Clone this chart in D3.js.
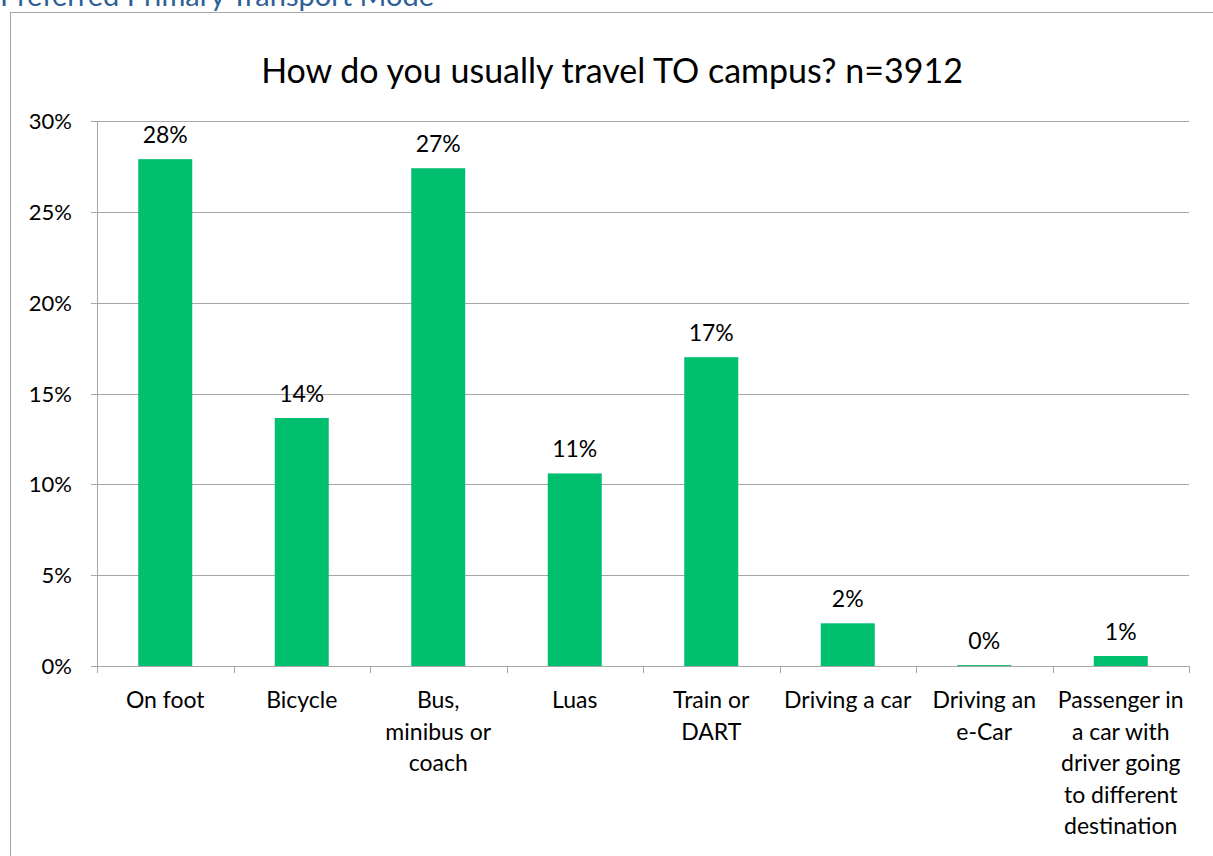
<!DOCTYPE html>
<html>
<head>
<meta charset="utf-8">
<script src="https://cdn.jsdelivr.net/npm/d3@7"></script>
<style>
body { margin: 0; background: #fff; }
text { font-family: Lato, "Open Sans", sans-serif; }
</style>
</head>
<body>
<svg width="1213" height="856"></svg>
<script>
var categories = ['On foot', 'Bicycle', 'Bus, minibus or coach', 'Luas', 'Train or DART', 'Driving a car', 'Driving an e-Car', 'Passenger in a car with driver going to different destination'];
var labelLines = [['On foot'], ['Bicycle'], ['Bus,', 'minibus or', 'coach'], ['Luas'], ['Train or', 'DART'], ['Driving a car'], ['Driving an', 'e-Car'], ['Passenger in', 'a car with', 'driver going', 'to different', 'destination']];
var values = [27.9, 13.65, 27.4, 10.6, 17.0, 2.35, 0.05, 0.55];
var valueLabels = ['28%', '14%', '27%', '11%', '17%', '2%', '0%', '1%'];
var yTicks = [0, 5, 10, 15, 20, 25, 30];

var svg = d3.select('svg');
var margin = {left: 97, right: 24, top: 121, bottom: 190};
var width = +svg.attr('width'), height = +svg.attr('height');
var innerwidth = width - margin.left - margin.right;
var innerheight = height - margin.top - margin.bottom;

// page heading (sits partly above the page) and chart frame
svg.append('text')
	.attr('x', 0).attr('y', 6)
	.style('font-size', '29px')
	.style('fill', '#2e6096')
	.text('Preferred Primary Transport Mode');

svg.append('rect')
	.attr('x', 10.5).attr('y', 12.5)
	.attr('width', 1220).attr('height', 900)
	.attr('fill', 'none')
	.attr('stroke', '#a6a6a6');

svg.append('text')
	.attr('x', 612).attr('y', 83)
	.attr('text-anchor', 'middle')
	.style('font-size', '34px')
	.text('How do you usually travel TO campus? n=3912');

var band = d3.scaleBand().domain(categories).range([0, innerwidth]);
var yscale = d3.scaleLinear().domain([0, 30]).range([innerheight, 0]);

var g = svg.append('g').attr('transform', `translate(${margin.left},${margin.top})`);

// gridlines
g.append('g').selectAll('line').data(yTicks).enter().append('line')
	.attr('x1', -6).attr('x2', innerwidth)
	.attr('y1', d => Math.round(yscale(d)) + 0.5).attr('y2', d => Math.round(yscale(d)) + 0.5)
	.attr('stroke', '#a6a6a6');

g.append('line')
	.attr('x1', 0.5).attr('x2', 0.5).attr('y1', 0).attr('y2', innerheight)
	.attr('stroke', '#a6a6a6');

g.append('g').selectAll('text').data(yTicks).enter().append('text')
	.attr('x', -25).attr('y', d => yscale(d) + 8)
	.attr('text-anchor', 'end')
	.style('font-size', '22px')
	.text(d => d + '%');

// x tick marks at category boundaries
var bounds = categories.map(c => band(c)).concat([innerwidth]);
g.append('g').selectAll('line').data(bounds).enter().append('line')
	.attr('x1', d => Math.round(d) + 0.5).attr('x2', d => Math.round(d) + 0.5)
	.attr('y1', innerheight).attr('y2', innerheight + 7)
	.attr('stroke', '#a6a6a6');

var bw = 54;
g.append('g').selectAll('rect').data(values).enter().append('rect')
	.attr('x', (d, i) => band(categories[i]) + band.bandwidth() / 2 - bw / 2)
	.attr('y', d => yscale(d))
	.attr('width', bw)
	.attr('height', d => innerheight - yscale(d))
	.attr('fill', '#00bf6f');

g.append('g').selectAll('text').data(values).enter().append('text')
	.attr('x', (d, i) => band(categories[i]) + band.bandwidth() / 2)
	.attr('y', d => yscale(d) - 16)
	.attr('text-anchor', 'middle')
	.style('font-size', '23px')
	.text((d, i) => valueLabels[i]);

var xl = g.append('g').selectAll('text').data(labelLines).enter().append('text')
	.attr('text-anchor', 'middle')
	.style('font-size', '23px');
xl.each(function(lines, i) {
	var cx = band(categories[i]) + band.bandwidth() / 2;
	d3.select(this).selectAll('tspan').data(lines).enter().append('tspan')
		.attr('x', cx)
		.attr('y', (l, j) => innerheight + 42 + j * 31.5)
		.text(l => l);
});
</script>
</body>
</html>
